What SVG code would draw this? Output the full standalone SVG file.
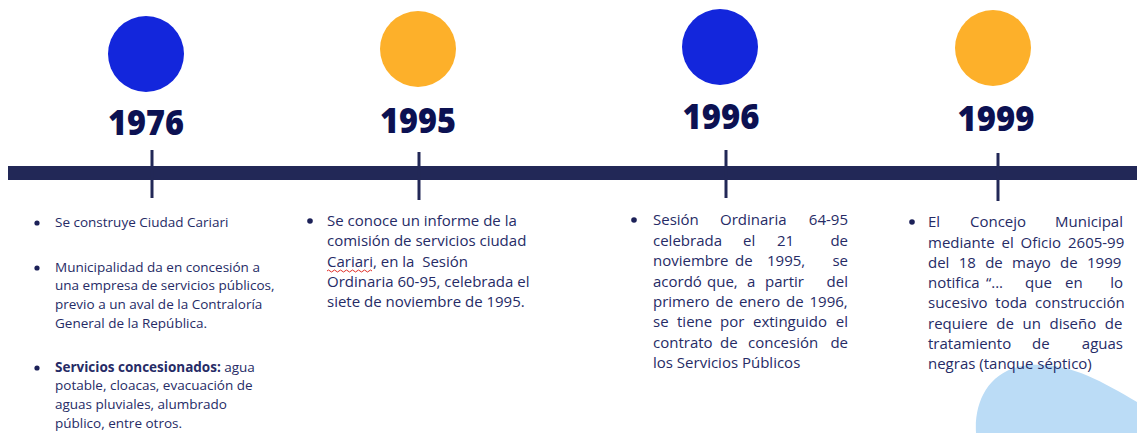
<svg xmlns="http://www.w3.org/2000/svg" width="1137" height="433" viewBox="0 0 1137 433">
<style>
.year{font-family:"Open Sans","Liberation Sans",sans-serif;font-weight:800;font-size:36px;fill:#0c1152;text-anchor:middle}
.t{font-family:"Open Sans","Liberation Sans",sans-serif;font-size:15px;fill:#262b66}
.s{font-family:"Open Sans","Liberation Sans",sans-serif;font-size:13.5px;fill:#262b66}
.e{text-anchor:end}
.b{font-weight:700}
.blue{fill:#1326dc}
.orange{fill:#fdb02a}
.tick{stroke:#222857;stroke-width:3}
.dot{fill:#1c2158}
</style>
<rect width="1137" height="433" fill="#ffffff"/>
<path d="M976 433 C974 400 990 368 1030 365 C1068 362 1100 380 1137 402 L1137 433 Z" fill="#bbdcf6"/>
<g id="timeline">
<rect x="8" y="166" width="1129" height="14" fill="#222857"/>
<line class="tick" x1="152" y1="150" x2="152" y2="198"/>
<line class="tick" x1="419" y1="152" x2="419" y2="200"/>
<line class="tick" x1="726" y1="150" x2="726" y2="198"/>
<line class="tick" x1="998" y1="153" x2="998" y2="201"/>
</g>
<g id="n1976">
<circle class="blue" cx="146" cy="54" r="38"/>
<text class="year" x="146" y="135" textLength="76" lengthAdjust="spacingAndGlyphs">1976</text>
<circle class="dot" cx="37" cy="223" r="2.6"/>
<text class="s" x="55" y="227">Se construye Ciudad Cariari</text>
<circle class="dot" cx="37" cy="268" r="2.6"/>
<text class="s" x="55" y="272">Municipalidad da en concesión a</text>
<text class="s" x="55" y="290">una empresa de servicios públicos,</text>
<text class="s" x="55" y="309">previo a un aval de la Contraloría</text>
<text class="s" x="55" y="328">General de la República.</text>
<circle class="dot" cx="37" cy="368" r="2.6"/>
<text class="s" x="55" y="372"><tspan class="b">Servicios concesionados:</tspan> agua</text>
<text class="s" x="55" y="390">potable, cloacas, evacuación de</text>
<text class="s" x="55" y="409">aguas pluviales, alumbrado</text>
<text class="s" x="55" y="428">público, entre otros.</text>
</g>
<g id="n1995">
<circle class="orange" cx="418" cy="49" r="38"/>
<text class="year" x="418" y="133" textLength="76" lengthAdjust="spacingAndGlyphs">1995</text>
<circle class="dot" cx="310" cy="221" r="2.8"/>
<text class="t" x="327" y="226">Se conoce un informe de la</text>
<text class="t" x="327" y="246">comisión de servicios ciudad</text>
<text class="t" x="327" y="267" style="white-space:pre">Cariari, en la  Sesión</text>
<path d="M327 271 q1.5 -2 3 0 t3 0 t3 0 t3 0 t3 0 t3 0 t3 0 t3 0 t3 0 t3 0 t3 0 t3 0 t3 0 t3 0 t3 0" fill="none" stroke="#e0302a" stroke-width="1"/>
<text class="t" x="327" y="287">Ordinaria 60-95, celebrada el</text>
<text class="t" x="327" y="307">siete de noviembre de 1995.</text>
</g>
<g id="n1996">
<circle class="blue" cx="720" cy="47" r="38"/>
<text class="year" x="721" y="129" textLength="77" lengthAdjust="spacingAndGlyphs">1996</text>
<circle class="dot" cx="634" cy="220" r="2.8"/>
<text class="t" y="225"><tspan x="653">Sesión</tspan><tspan x="720">Ordinaria</tspan></text>
<text class="t e" x="848" y="225">64-95</text>
<text class="t" y="246"><tspan x="653">celebrada</tspan><tspan x="743">el</tspan><tspan x="777">21</tspan></text>
<text class="t e" x="848" y="246">de</text>
<text class="t" y="266"><tspan x="653">noviembre</tspan><tspan x="735">de</tspan><tspan x="767">1995,</tspan></text>
<text class="t e" x="848" y="266">se</text>
<text class="t" y="287"><tspan x="653">acordó</tspan><tspan x="707">que,</tspan><tspan x="747">a</tspan><tspan x="765">partir</tspan></text>
<text class="t e" x="848" y="287">del</text>
<text class="t" x="653" y="307" word-spacing="2">primero de enero de 1996,</text>
<text class="t" y="327"><tspan x="653">se</tspan><tspan x="677">tiene</tspan><tspan x="720">por</tspan><tspan x="753">extinguido</tspan></text>
<text class="t e" x="848" y="327">el</text>
<text class="t" y="348"><tspan x="653">contrato</tspan><tspan x="720">de</tspan><tspan x="748">concesión</tspan></text>
<text class="t e" x="848" y="348">de</text>
<text class="t" x="653" y="368">los Servicios Públicos</text>
</g>
<g id="n1999">
<circle class="orange" cx="993" cy="48" r="38"/>
<text class="year" x="996" y="131" textLength="77" lengthAdjust="spacingAndGlyphs">1999</text>
<circle class="dot" cx="912" cy="222" r="2.8"/>
<text class="t" y="227"><tspan x="928">El</tspan><tspan x="970">Concejo</tspan></text>
<text class="t e" x="1123" y="227">Municipal</text>
<text class="t" x="928" y="248" word-spacing="3">mediante el Oficio 2605-99</text>
<text class="t" x="928" y="268" word-spacing="5.4">del 18 de mayo de 1999</text>
<text class="t" y="288"><tspan x="928">notifica</tspan><tspan x="986">“...</tspan><tspan x="1025">que</tspan><tspan x="1065">en</tspan></text>
<text class="t e" x="1123" y="288">lo</text>
<text class="t" x="928" y="308" word-spacing="4">sucesivo toda construcción</text>
<text class="t" x="928" y="329" word-spacing="4.7">requiere de un diseño de</text>
<text class="t" y="349"><tspan x="928">tratamiento</tspan><tspan x="1032">de</tspan></text>
<text class="t e" x="1123" y="349">aguas</text>
<text class="t" x="928" y="369">negras (tanque séptico)</text>
</g>
</svg>
